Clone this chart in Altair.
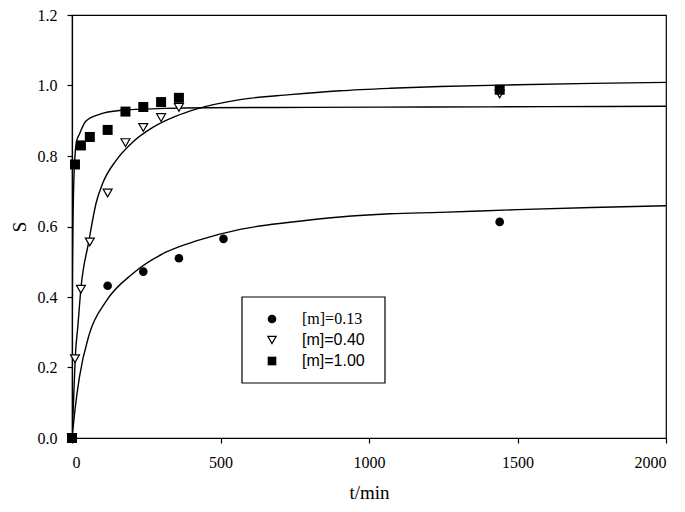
import altair as alt
import pandas as pd

# Measured points
t_013 = [0, 120, 240, 360, 510, 1440]
s_013 = [0, 0.432, 0.472, 0.510, 0.565, 0.613]
t_040 = [0, 10, 30, 60, 120, 180, 240, 300, 360, 1440]
s_040 = [0, 0.225, 0.422, 0.556, 0.695, 0.838, 0.881, 0.909, 0.938, 0.976]
t_100 = [0, 10, 30, 60, 120, 180, 240, 300, 360, 1440]
s_100 = [0, 0.776, 0.830, 0.854, 0.874, 0.926, 0.939, 0.953, 0.965, 0.988]

# Fitted curves
fit_t_013 = [0, 10, 25, 58, 114, 204, 316, 418, 566, 734, 902, 1071, 1239, 1500, 1750, 2000]
fit_s_013 = [0, 0.080, 0.173, 0.294, 0.387, 0.466, 0.527, 0.559, 0.592, 0.612, 0.627, 0.636, 0.640, 0.648, 0.654, 0.659]
fit_t_040 = [0, 5, 11, 20, 30, 56, 81, 103, 148, 204, 272, 350, 418, 566, 734, 902, 1071, 1239, 1500, 1750, 2000]
fit_s_040 = [0, 0.100, 0.229, 0.320, 0.424, 0.555, 0.666, 0.722, 0.787, 0.839, 0.881, 0.913, 0.933, 0.960, 0.974, 0.985, 0.992, 0.997, 1.002, 1.006, 1.009]
fit_t_100 = [0, 1, 2, 4, 7, 10, 15, 25, 47, 92, 160, 316, 450, 800, 1200, 1600, 2000]
fit_s_100 = [0, 0.340, 0.500, 0.650, 0.750, 0.800, 0.840, 0.862, 0.899, 0.918, 0.929, 0.935, 0.937, 0.938, 0.939, 0.940, 0.941]

x_ticks = [0, 500, 1000, 1500, 2000]
y_ticks = [0.0, 0.2, 0.4, 0.6, 0.8, 1.0, 1.2]
legend_labels = ["[m]=0.13", "[m]=0.40", "[m]=1.00"]

SERIF = "Liberation Serif, Times New Roman, serif"
SANS = "Liberation Sans, Arial, sans-serif"

W, H = 594, 423

xs = alt.Scale(domain=[0, 2000], nice=False, zero=False)
ys = alt.Scale(domain=[0, 1.2], nice=False, zero=False)

x_axis = alt.Axis(values=x_ticks, format="d", title="t/min", labelPadding=11,
                  titleX=W / 2, titleY=54, titleBaseline="middle", titleAlign="center")
y_axis = alt.Axis(values=y_ticks, format=".1f", title="S", labelPadding=10,
                  titleX=-53, titleY=H / 2, titleBaseline="middle", titleAlign="center", titleAngle=270)

def pts(t, s):
    return pd.DataFrame({"t": t, "s": s})

X = alt.X("t:Q", scale=xs, axis=x_axis)
Y = alt.Y("s:Q", scale=ys, axis=y_axis)

lines = []
for ft, fs in [(fit_t_013, fit_s_013), (fit_t_040, fit_s_040), (fit_t_100, fit_s_100)]:
    lines.append(alt.Chart(pts(ft, fs)).mark_line(color="black", strokeWidth=1.4, clip=True,
                                                  interpolate="monotone")
                 .encode(x=X, y=Y, order="t:Q"))

circ = alt.Chart(pts(t_013, s_013)).mark_point(shape="circle", filled=True, color="black", size=75, opacity=1).encode(x=X, y=Y)
tri = alt.Chart(pts(t_040, s_040)).mark_point(shape="triangle-down", filled=True, fill="white", stroke="black",
                                               strokeWidth=1.2, size=80, opacity=1).encode(x=X, y=Y)
sq = alt.Chart(pts(t_100, s_100)).mark_point(shape="square", filled=True, color="black", size=100, opacity=1).encode(x=X, y=Y)

one = pd.DataFrame({"a": [0]})
box = alt.Chart(one).mark_rect(fill="white", stroke="black", strokeWidth=1.2).encode(
    x=alt.value(170), x2=alt.value(313), y=alt.value(282), y2=alt.value(368))
lg_c = alt.Chart(one).mark_point(shape="circle", filled=True, color="black", size=75, opacity=1).encode(
    x=alt.value(200), y=alt.value(304))
lg_t = alt.Chart(one).mark_point(shape="triangle-down", filled=True, fill="white", stroke="black",
                                  strokeWidth=1.2, size=70, opacity=1).encode(x=alt.value(200), y=alt.value(325))
lg_s = alt.Chart(one).mark_point(shape="square", filled=True, color="black", size=75, opacity=1).encode(
    x=alt.value(200), y=alt.value(346))
txt1 = alt.Chart(one).mark_text(font=SERIF, fontSize=16, align="left", baseline="middle", color="black").encode(
    x=alt.value(230), y=alt.value(304), text=alt.value(legend_labels[0]))
txt2 = alt.Chart(one).mark_text(font=SANS, fontSize=16, align="left", baseline="middle", color="black").encode(
    x=alt.value(230), y=alt.value(325), text=alt.value(legend_labels[1]))
txt3 = alt.Chart(one).mark_text(font=SANS, fontSize=16, align="left", baseline="middle", color="black").encode(
    x=alt.value(230), y=alt.value(346), text=alt.value(legend_labels[2]))

chart = alt.layer(*lines, circ, tri, sq, box, lg_c, lg_t, lg_s, txt1, txt2, txt3).properties(
    width=W, height=H,
    autosize=alt.AutoSizeParams(type="none"),
    padding={"left": 64, "top": 7, "right": 11, "bottom": 66},
).configure_view(stroke="black", strokeWidth=1.2).configure_axis(
    grid=False, domainColor="black", domainWidth=1.2, tickColor="black", tickSize=5, tickWidth=1.2,
    labelFont=SERIF, labelFontSize=16, labelColor="black",
    titleFont=SERIF, titleFontSize=19, titleFontWeight="normal", titleColor="black",
)

chart.save("out.html", embed_options={"renderer": "svg", "actions": False})
